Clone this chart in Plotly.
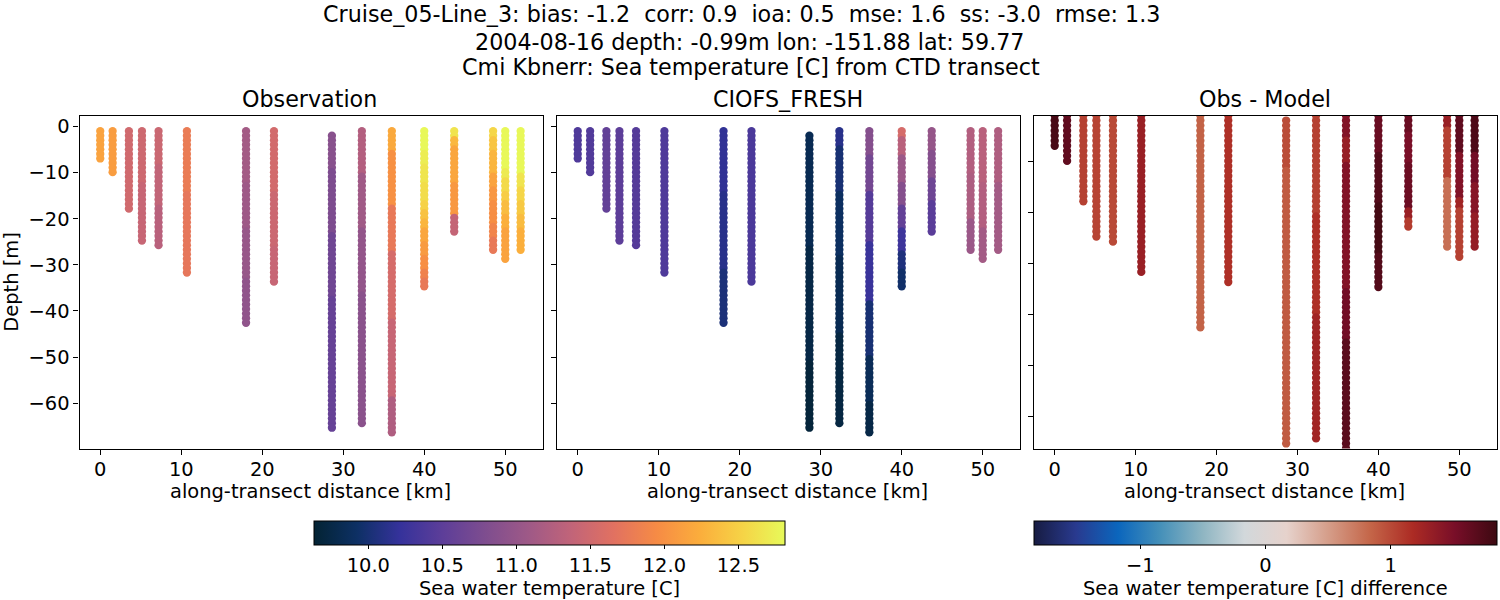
import plotly.graph_objects as go

# along-transect distance of each CTD cast [km]
station_km = [0.0, 1.53, 3.54, 5.15, 7.2, 10.7, 18.0, 21.45, 28.6, 32.3, 36.0, 40.0, 43.7, 48.5, 50.0, 51.9]

depth_levels = [
    -0.99, -1.98, -2.97, -3.96, -4.95, -5.94, -6.93, -7.92, -8.91, -9.9,
    -10.89, -11.88, -12.87, -13.86, -14.85, -15.84, -16.83, -17.82, -18.81, -19.8,
    -20.79, -21.78, -22.77, -23.76, -24.75, -25.74, -26.73, -27.72, -28.71, -29.7,
    -30.69, -31.68, -32.67, -33.66, -34.65, -35.64, -36.63, -37.62, -38.61, -39.6,
    -40.59, -41.58, -42.57, -43.56, -44.55, -45.54, -46.53, -47.52, -48.51, -49.5,
    -50.49, -51.48, -52.47, -53.46, -54.45, -55.44, -56.43, -57.42, -58.41, -59.4,
    -60.39, -61.38, -62.37, -63.36, -64.35, -65.34, -66.33,
]
# first level of each cast (the 28.6 km one starts a level lower)
cast_first_level = [0, 0, 0, 0, 0, 0, 0, 0, 1, 0, 0, 0, 0, 0, 0, 0]

# temperature by cast, top to bottom
obs_temp = [
    [12.15] * 7,
    [12.1] * 10,
    [11.5] * 18,
    [11.48] * 12 + [11.42] * 13,
    [11.45] * 8 + [11.38] * 9 + [11.3] * 9,
    [11.78] * 14 + [11.72] * 18,
    [11.12] * 12 + [11.08] * 10 + [11.02] * 11 + [10.95] * 10,
    [11.52] * 14 + [11.46] * 12 + [11.42] * 8,
    [10.88] * 8 + [10.78] * 14 + [10.66] * 14 + [10.58] * 29,
    [11.25] * 10 + [11.1] * 12 + [10.98] * 14 + [10.9] * 29,
    [12.2] * 5 + [12.0] * 12 + [11.75] * 10 + [11.55] * 15 + [11.42] * 17 + [11.22] * 8,
    [12.8] * 5 + [12.72] * 3 + [12.66] * 4 + [12.6] * 4 + [12.52] * 2 + [12.4] * 2 + [12.3] * 2 + [12.18] * 3
    + [12.08] * 3 + [11.98] * 3 + [11.85] * 2 + [11.75] * 2,
    [12.65] * 2 + [12.32] * 2 + [12.18] * 8 + [12.06] * 7 + [11.4] * 4,
    [12.55] * 2 + [12.42] * 3 + [12.3] * 5 + [12.15] * 3 + [12.05] * 3 + [11.97] * 5 + [11.88] * 3 + [11.75] * 3,
    [12.8] * 9 + [12.7] * 2 + [12.58] * 3 + [12.48] * 2 + [12.35] * 3 + [12.25] * 3 + [12.15] * 7,
    [12.8] * 10 + [12.65] * 3 + [12.55] * 3 + [12.45] * 3 + [12.35] * 3 + [12.25] * 5,
]

model_temp = [
    [10.4] * 7,
    [10.42] * 10,
    [10.55] * 18,
    [10.5] * 25,
    [10.44] * 26,
    [10.4] * 32,
    [10.18] * 14 + [10.12] * 17 + [10.03] * 12,
    [10.37] * 34,
    [9.82] * 25 + [9.75] * 25 + [9.68] * 15,
    [10.12] * 4 + [10.0] * 10 + [9.9] * 14 + [9.82] * 17 + [9.72] * 20,
    [10.85] * 6 + [10.7] * 8 + [10.45] * 11 + [10.25] * 13 + [10.0] * 12 + [9.85] * 10 + [9.75] * 7,
    [11.55] * 2 + [11.3] * 4 + [11.05] * 6 + [10.85] * 5 + [10.55] * 5 + [10.28] * 5 + [10.05] * 4 + [9.95] * 4,
    [11.0] * 5 + [10.85] * 6 + [10.65] * 5 + [10.48] * 7,
    [11.25] * 10 + [11.2] * 10 + [11.05] * 7,
    [11.3] * 12 + [11.25] * 10 + [11.12] * 7,
    [11.22] * 12 + [11.12] * 15,
]

diff_temp = [
    [1.78] * 7,
    [1.65] * 10,
    [1.05] * 18,
    [1.03] * 25,
    [1.0] * 26,
    [1.3] * 32,
    [0.85] * 43,
    [1.15] * 34,
    [0.98] * 10 + [0.9] * 55,
    [1.05] * 20 + [1.15] * 20 + [1.25] * 25,
    [1.45] * 5 + [1.32] * 5 + [1.45] * 25 + [1.55] * 10 + [1.68] * 22,
    [1.6] * 8 + [1.72] * 10 + [1.8] * 10 + [1.72] * 7,
    [1.6] * 4 + [1.5] * 6 + [1.58] * 9 + [1.3] * 2 + [1.08] * 2,
    [1.3] * 3 + [1.05] * 10 + [0.78] * 14,
    [1.65] * 8 + [1.45] * 9 + [1.25] * 2 + [1.05] * 10,
    [1.75] * 8 + [1.55] * 6 + [1.42] * 6 + [1.33] * 7,
]

x_ticks = [0, 10, 20, 30, 40, 50]
y_ticks = [0, -10, -20, -30, -40, -50, -60]
temp_ticks = [10.0, 10.5, 11.0, 11.5, 12.0, 12.5]
diff_ticks = [-1, 0, 1]

title_lines = [
    "Cruise_05-Line_3: bias: -1.2  corr: 0.9  ioa: 0.5  mse: 1.6  ss: -3.0  rmse: 1.3",
    "2004-08-16 depth: -0.99m lon: -151.88 lat: 59.77",
    "Cmi Kbnerr: Sea temperature [C] from CTD transect",
]
panel_titles = ["Observation", "CIOFS_FRESH", "Obs - Model"]
x_axis_title = "along-transect distance [km]"
colorbar_titles = ["Sea water temperature [C]", "Sea water temperature [C] difference"]

W, H = 1500, 600
FONT = "DejaVu Sans"
SIZE_TICK = 19.44
SIZE_TITLE = 22.22


def flatten(casts):
    xs, ys, cs = [], [], []
    for km, first, vals in zip(station_km, cast_first_level, casts):
        for k, v in enumerate(vals):
            xs.append(km)
            ys.append(depth_levels[first + k])
            cs.append(v)
    return xs, ys, cs


def fx(px):
    return px / W


def fy(px):
    return 1 - px / H


def label(text, cx, cy, size):
    fig.add_annotation(text=text, xref="paper", yref="paper", x=fx(cx), y=fy(cy), showarrow=False,
                       xanchor="center", yanchor="middle", font=dict(family=FONT, size=size, color="black"))


fig = go.Figure()
for i, (casts, axis) in enumerate([(obs_temp, "coloraxis"), (model_temp, "coloraxis"), (diff_temp, "coloraxis2")]):
    xs, ys, cs = flatten(casts)
    fig.add_trace(go.Scatter(x=xs, y=ys, mode="markers", xaxis=f"x{i + 1}", yaxis=f"y{i + 1}", showlegend=False,
                             marker=dict(size=8.3, color=cs, coloraxis=axis, line=dict(width=0))))

axis_style = dict(showline=True, mirror=True, linecolor="black", linewidth=1.1, showgrid=False, zeroline=False,
                  ticks="outside", ticklen=5, tickwidth=1.1, tickcolor="black",
                  tickfont=dict(family=FONT, size=SIZE_TICK, color="black"), automargin=False)
y_domain = [fy(448.5), fy(115.5)]
x_range = [-2.56, 54.6]
bar_style = dict(xanchor="center", y=fy(521), yanchor="top", lenmode="fraction", thickness=24,
                 thicknessmode="pixels", xpad=0, ypad=0, orientation="h", outlinewidth=1, outlinecolor="black",
                 ticks="outside", ticklen=4, tickwidth=1.1, tickcolor="black",
                 tickfont=dict(family=FONT, size=SIZE_TICK, color="black"))

fig.update_layout(
    width=W, height=H, margin=dict(l=0, r=0, t=0, b=0), paper_bgcolor="white", plot_bgcolor="white",
    font=dict(family=FONT, size=SIZE_TICK, color="black"),
    xaxis=dict(domain=[fx(79.5), fx(542.5)], range=x_range, tickvals=x_ticks, ticklabelstandoff=-2, **axis_style),
    xaxis2=dict(domain=[fx(557), fx(1020)], range=x_range, tickvals=x_ticks, ticklabelstandoff=-2, **axis_style),
    xaxis3=dict(domain=[fx(1034), fx(1496.5)], range=x_range, tickvals=x_ticks, ticklabelstandoff=-2, **axis_style),
    yaxis=dict(domain=y_domain, range=[-69.85, 2.39], tickvals=y_ticks, anchor="x",
               title=dict(text="Depth [m]", standoff=12, font=dict(family=FONT, size=SIZE_TICK, color="black")),
               **axis_style),
    yaxis2=dict(domain=y_domain, range=[-69.85, 2.39], tickvals=y_ticks, anchor="x2",
                showticklabels=False, **axis_style),
    yaxis3=dict(domain=y_domain, range=[-66.33, -0.99], tickvals=y_ticks, anchor="x3",
                showticklabels=False, **axis_style),
    coloraxis=dict(colorscale="thermal", cmin=9.633, cmax=12.815,
                   colorbar=dict(x=fx(549.5), len=471 / W, tickvals=temp_ticks, tickformat=".1f", **bar_style)),
    coloraxis2=dict(colorscale="balance", cmin=-1.85, cmax=1.85,
                    colorbar=dict(x=fx(1265.5), len=463 / W, tickvals=diff_ticks, **bar_style)),
)

# suptitle lines, the first one sits a bit left of centre in the original
for text, cx, cy in zip(title_lines, [741.5, 749.5, 750.5], [14, 41.5, 67]):
    label(text, cx, cy, SIZE_TITLE)

for text, cx in zip(panel_titles, [309.5, 788, 1265]):
    label(text, cx, 99.5, SIZE_TITLE)

for cx in [310.5, 787.5, 1264.5]:
    label(x_axis_title, cx, 491, SIZE_TICK)

for text, cx in zip(colorbar_titles, [549, 1265]):
    label(text, cx, 588, SIZE_TICK)

# the title starts right at the top of the window, the default body margin would cut it
fig.write_html("out.html", post_script="document.body.style.margin = '0';", config={"displayModeBar": False})
